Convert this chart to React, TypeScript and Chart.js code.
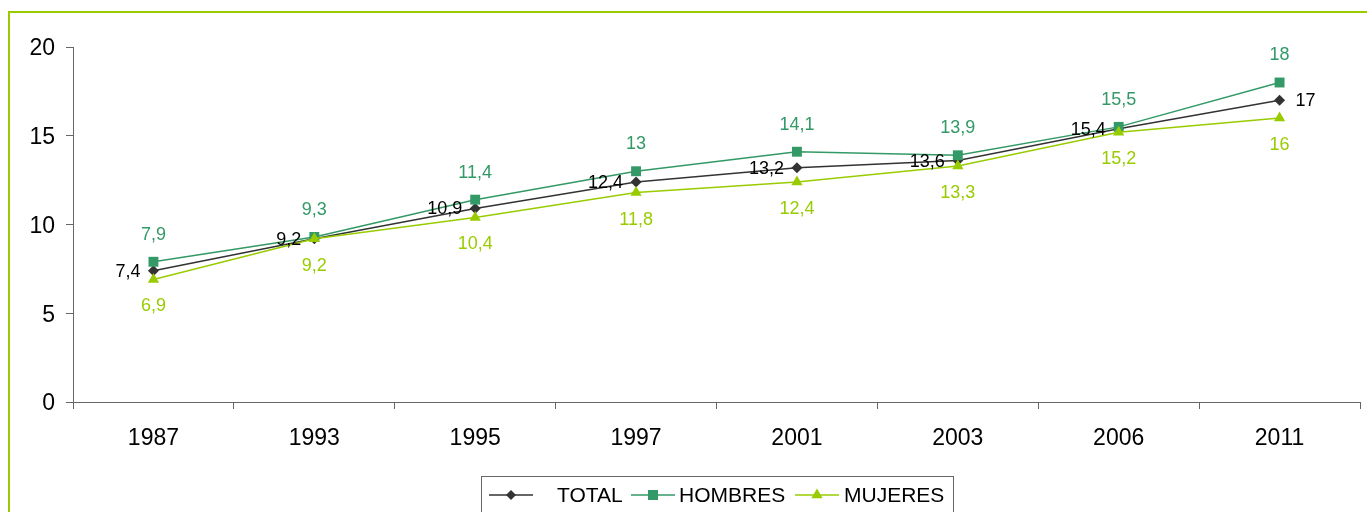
import React, { useEffect, useRef } from "react";
import { Chart, registerables } from "chart.js";

Chart.register(...registerables);

const years = ["1987", "1993", "1995", "1997", "2001", "2003", "2006", "2011"];
const totalValues = [7.4, 9.2, 10.9, 12.4, 13.2, 13.6, 15.4, 17];
const hombresValues = [7.9, 9.3, 11.4, 13, 14.1, 13.9, 15.5, 18];
const mujeresValues = [6.9, 9.2, 10.4, 11.8, 12.4, 13.3, 15.2, 16];
const seriesNames = ["TOTAL", "HOMBRES", "MUJERES"];

const FONT = "'Liberation Sans', Arial, sans-serif";
const C_TOTAL = "#333333";
const C_HOMBRES = "#339966";
const C_MUJERES = "#99CC00";

const fmt = (v: number) => String(v).replace(".", ",");

const framePlugin = {
  id: "frame",
  beforeDraw(chart: any) {
    const ctx = chart.ctx;
    ctx.save();
    ctx.strokeStyle = C_MUJERES;
    ctx.lineWidth = 2;
    ctx.strokeRect(9, 12, 3000, 3000);
    ctx.restore();
  },
};

const labelsPlugin = {
  id: "valueLabels",
  afterDatasetsDraw(chart: any) {
    const ctx = chart.ctx;
    ctx.save();
    ctx.font = `18px ${FONT}`;
    ctx.textBaseline = "middle";
    chart.data.datasets.forEach((ds: any, di: number) => {
      const meta = chart.getDatasetMeta(di);
      meta.data.forEach((pt: any, i: number) => {
        const v = ds.data[i];
        const txt = fmt(v);
        if (di === 0) {
          ctx.fillStyle = "#000000";
          if (i === ds.data.length - 1) {
            ctx.textAlign = "left";
            ctx.fillText(txt, pt.x + 16, pt.y + 1);
          } else {
            ctx.textAlign = "right";
            ctx.fillText(txt, pt.x - 13, pt.y + 1);
          }
        } else if (di === 1) {
          ctx.fillStyle = C_HOMBRES;
          ctx.textAlign = "center";
          ctx.fillText(txt, pt.x, pt.y - 27);
        } else {
          ctx.fillStyle = C_MUJERES;
          ctx.textAlign = "center";
          ctx.fillText(txt, pt.x, pt.y + 27);
        }
      });
    });
    ctx.restore();
  },
};

function drawMarker(ctx: CanvasRenderingContext2D, kind: string, x: number, y: number, color: string) {
  ctx.fillStyle = color;
  ctx.beginPath();
  if (kind === "diamond") {
    const r = 5;
    ctx.moveTo(x, y - r);
    ctx.lineTo(x + r, y);
    ctx.lineTo(x, y + r);
    ctx.lineTo(x - r, y);
    ctx.closePath();
  } else if (kind === "square") {
    ctx.rect(x - 5, y - 5, 10, 10);
  } else {
    const r = 6.5;
    ctx.moveTo(x, y - r);
    ctx.lineTo(x + r * 0.866, y + r * 0.5);
    ctx.lineTo(x - r * 0.866, y + r * 0.5);
    ctx.closePath();
  }
  ctx.fill();
}

const legendPlugin = {
  id: "customLegend",
  afterDraw(chart: any) {
    const ctx = chart.ctx;
    ctx.save();
    ctx.strokeStyle = "#666666";
    ctx.lineWidth = 1;
    ctx.strokeRect(481.5, 476.5, 472, 100);
    const y = 495;
    const items = [
      { name: seriesNames[0], color: C_TOTAL, kind: "diamond", x0: 489, x1: 533, tx: 557 },
      { name: seriesNames[1], color: C_HOMBRES, kind: "square", x0: 631, x1: 675, tx: 679 },
      { name: seriesNames[2], color: C_MUJERES, kind: "triangle", x0: 795, x1: 839, tx: 844 },
    ];
    items.forEach((it) => {
      ctx.strokeStyle = it.color;
      ctx.lineWidth = 1.5;
      ctx.beginPath();
      ctx.moveTo(it.x0, y);
      ctx.lineTo(it.x1, y);
      ctx.stroke();
      drawMarker(ctx, it.kind, (it.x0 + it.x1) / 2, y, it.color);
      ctx.fillStyle = "#000000";
      ctx.font = `21px ${FONT}`;
      ctx.textAlign = "left";
      ctx.textBaseline = "middle";
      ctx.fillText(it.name, it.tx, y + 1);
    });
    ctx.restore();
  },
};

export default function App() {
  const ref = useRef<HTMLCanvasElement | null>(null);

  useEffect(() => {
    if (!ref.current) return;
    const chart = new Chart(ref.current, {
      type: "line",
      data: {
        labels: years,
        datasets: [
          {
            label: seriesNames[0],
            data: totalValues,
            borderColor: C_TOTAL,
            backgroundColor: C_TOTAL,
            borderWidth: 1.5,
            pointStyle: "rectRot",
            pointRadius: 5.5,
            pointBorderWidth: 0,
            tension: 0,
            order: 2,
          },
          {
            label: seriesNames[1],
            data: hombresValues,
            borderColor: C_HOMBRES,
            backgroundColor: C_HOMBRES,
            borderWidth: 1.5,
            pointStyle: "rect",
            pointRadius: 7,
            pointBorderWidth: 0,
            tension: 0,
            order: 1,
          },
          {
            label: seriesNames[2],
            data: mujeresValues,
            borderColor: C_MUJERES,
            backgroundColor: C_MUJERES,
            borderWidth: 1.5,
            pointStyle: "triangle",
            pointRadius: 6.5,
            pointBorderWidth: 0,
            tension: 0,
            order: 0,
          },
        ],
      },
      options: {
        responsive: false,
        animation: false,
        layout: { padding: { left: 0, top: 47, right: 5, bottom: 0 } },
        plugins: {
          legend: { display: false },
          tooltip: { enabled: false },
        },
        scales: {
          x: {
            type: "category",
            offset: true,
            grid: {
              offset: true,
              drawOnChartArea: false,
              drawTicks: true,
              tickLength: 7,
              color: "#666666",
            },
            border: { color: "#666666", width: 1 },
            ticks: {
              color: "#000000",
              font: { family: FONT, size: 23 },
              padding: 16,
              maxRotation: 0,
            },
            afterFit(scale: any) {
              scale.height = 110;
            },
          },
          y: {
            min: 0,
            max: 20,
            ticks: {
              stepSize: 5,
              color: "#000000",
              font: { family: FONT, size: 23 },
              padding: 11,
              labelOffset: 2,
            },
            grid: {
              drawOnChartArea: false,
              drawTicks: true,
              tickLength: 7,
              color: "#666666",
            },
            border: { color: "#666666", width: 1 },
            afterFit(scale: any) {
              scale.width = 73;
            },
          },
        },
      },
      plugins: [framePlugin, labelsPlugin, legendPlugin],
    });
    return () => chart.destroy();
  }, []);

  return (
    <div style={{ position: "fixed", left: 0, top: 0, width: 1367, height: 512, background: "#ffffff" }}>
      <canvas ref={ref} width={1367} height={512} style={{ display: "block" }} />
    </div>
  );
}
